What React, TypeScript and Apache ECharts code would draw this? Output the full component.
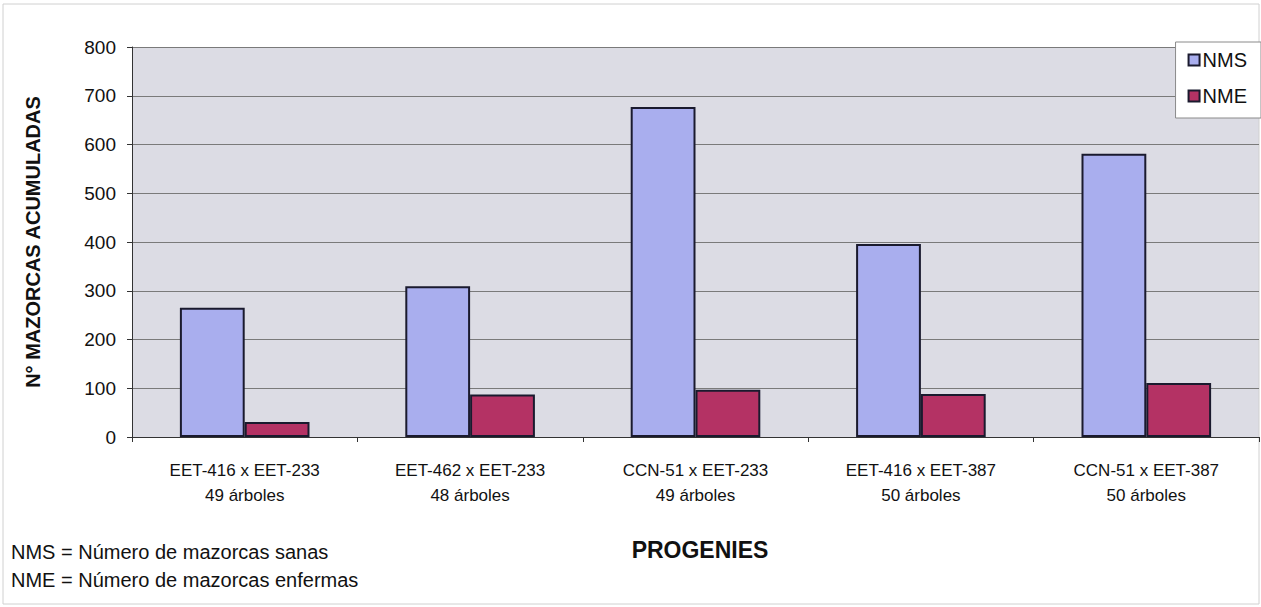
import React, { useEffect, useRef } from "react";
import * as echarts from "echarts";

const categories = [
  "EET-416 x EET-233\n49 árboles",
  "EET-462 x EET-233\n48 árboles",
  "CCN-51 x EET-233\n49 árboles",
  "EET-416 x EET-387\n50 árboles",
  "CCN-51 x EET-387\n50 árboles",
];
const nms = [265, 309, 677, 396, 581];
const nme = [31, 87, 97, 88, 111];
const yTicks = { min: 0, max: 800, interval: 100 };
const notes = ["NMS = Número de mazorcas sanas", "NME = Número de mazorcas enfermas"];
const xTitle = "PROGENIES";
const yTitle = "N° MAZORCAS ACUMULADAS";

export default function App() {
  const ref = useRef<HTMLDivElement>(null);
  useEffect(() => {
    if (!ref.current) return;
    const chart = echarts.init(ref.current, undefined, { renderer: "svg" });
    const font = "Liberation Sans, Arial, sans-serif";
    chart.setOption({
      animation: false,
      backgroundColor: "#ffffff",
      textStyle: { fontFamily: font },
      grid: {
        left: 132,
        right: 2,
        top: 47,
        bottom: 170,
        show: true,
        backgroundColor: "#dcdce4",
        borderWidth: 0,
      },
      legend: {
        orient: "vertical",
        right: 0,
        top: 42,
        backgroundColor: "#ffffff",
        borderColor: "#8a8a8a",
        borderWidth: 1,
        padding: [8, 14, 12, 12],
        itemWidth: 11,
        itemHeight: 11,
        itemGap: 16,
        icon: "rect",
        textStyle: { fontSize: 20, color: "#111", fontFamily: font, padding: [0, 0, 0, -2] },
        data: ["NMS", "NME"],
      },
      xAxis: {
        type: "category",
        data: categories,
        axisLine: { lineStyle: { color: "#333", width: 1 } },
        axisTick: { show: true, alignWithLabel: false, length: 5, lineStyle: { color: "#333" } },
        axisLabel: { fontSize: 17, color: "#111", lineHeight: 25, margin: 21, fontFamily: font },
      },
      yAxis: {
        type: "value",
        min: yTicks.min,
        max: yTicks.max,
        interval: yTicks.interval,
        name: yTitle,
        nameLocation: "middle",
        nameGap: 89,
        nameRotate: 90,
        nameTextStyle: { fontSize: 20, fontWeight: "bold", color: "#111", fontFamily: font },
        axisLine: { show: true, lineStyle: { color: "#333", width: 1 } },
        axisTick: { show: true, length: 5, lineStyle: { color: "#333" } },
        axisLabel: { fontSize: 19, color: "#111", margin: 16, fontFamily: font },
        splitLine: { show: true, lineStyle: { color: "#7a7a7a", width: 1 } },
      },
      series: [
        {
          name: "NMS",
          type: "bar",
          data: nms,
          barGap: "0%",
          barCategoryGap: "42.5%",
          itemStyle: { color: "#a9aeee", borderColor: "#1a1a2e", borderWidth: 2 },
        },
        {
          name: "NME",
          type: "bar",
          data: nme,
          itemStyle: { color: "#b43264", borderColor: "#1a1a2e", borderWidth: 2 },
        },
      ],
      graphic: [
        {
          type: "text",
          x: 700,
          y: 550,
          style: {
            text: xTitle,
            font: `bold 23px ${font}`,
            fill: "#111",
            textAlign: "center",
            textVerticalAlign: "middle",
          },
        },
        {
          type: "text",
          x: 11,
          y: 552,
          style: { text: notes[0], font: `20px ${font}`, fill: "#111", textVerticalAlign: "middle" },
        },
        {
          type: "text",
          x: 11,
          y: 580,
          style: { text: notes[1], font: `20px ${font}`, fill: "#111", textVerticalAlign: "middle" },
        },
        {
          type: "rect",
          shape: { x: 3, y: 4, width: 1256, height: 600 },
          style: { fill: "none", stroke: "#d0d0d0", lineWidth: 1 },
          silent: true,
        },
      ],
    });
    return () => chart.dispose();
  }, []);
  return <div ref={ref} style={{ width: 1261, height: 607, position: "absolute", left: 0, top: 0 }} />;
}
